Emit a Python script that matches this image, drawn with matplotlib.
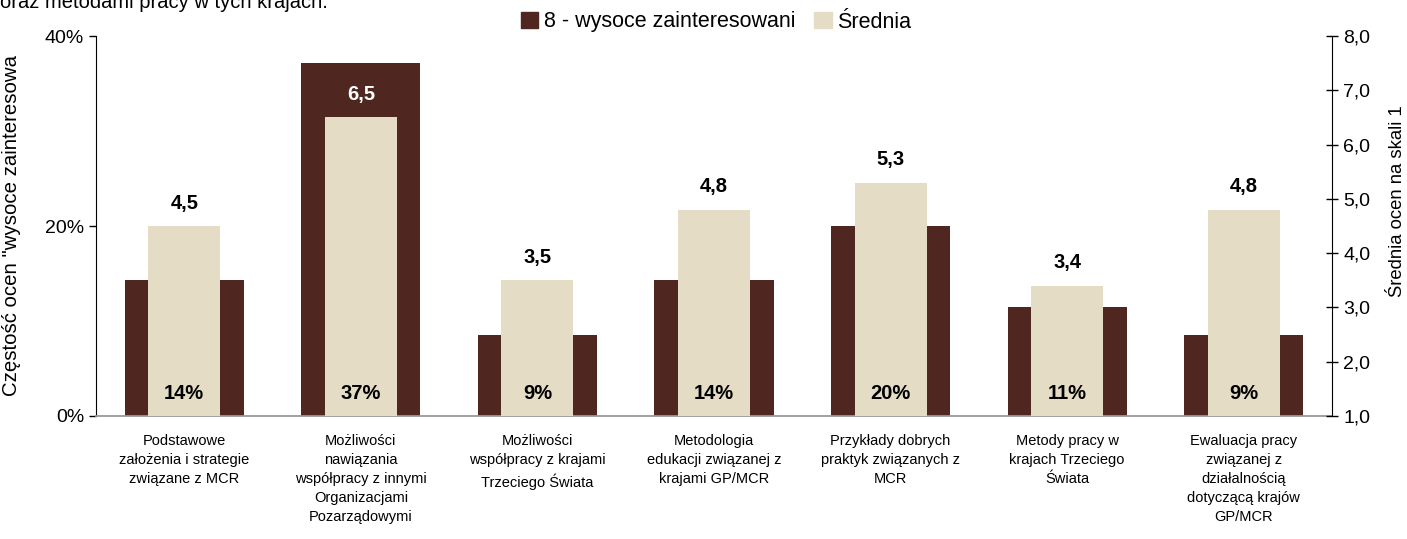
import matplotlib.pyplot as plt
from matplotlib.patches import Patch
import numpy as np

plt.rcParams["font.family"] = ["Liberation Sans", "DejaVu Sans"]

categories = [
    "Podstawowe\nzałożenia i strategie\nzwiązane z MCR",
    "Możliwości\nnawiązania\nwspółpracy z innymi\nOrganizacjami\nPozarządowymi",
    "Możliwości\nwspółpracy z krajami\nTrzeciego Świata",
    "Metodologia\nedukacji związanej z\nkrajami GP/MCR",
    "Przykłady dobrych\npraktyk związanych z\nMCR",
    "Metody pracy w\nkrajach Trzeciego\nŚwiata",
    "Ewaluacja pracy\nzwiązanej z\ndziałalnością\ndotyczącą krajów\nGP/MCR",
]
share_high = [14.29, 37.14, 8.57, 14.29, 20.0, 11.43, 8.57]
share_labels = ["14%", "37%", "9%", "14%", "20%", "11%", "9%"]
averages = [4.5, 6.5, 3.5, 4.8, 5.3, 3.4, 4.8]

dark = "#4F2720"
beige = "#E5DCC5"

fig = plt.figure(figsize=(14.07, 5.39), dpi=100)
ax = fig.add_axes([96 / 1407, 1 - 416 / 539, 1236 / 1407, 380 / 539])
ax2 = ax.twinx()

x = np.arange(len(categories))
ax.bar(x, share_high, width=0.674, color=dark, zorder=2)
ax2.bar(x, averages, width=0.408, color=beige, zorder=2)

ax.set_xlim(-0.5, len(categories) - 0.5)
ax.set_ylim(0, 40)
ax2.set_ylim(1, 8)

ax.set_yticks([0, 20, 40])
ax.set_yticklabels(["0%", "20%", "40%"], fontsize=14)
ax2.set_yticks(np.arange(1, 9))
ax2.set_yticklabels([f"{v:.1f}".replace(".", ",") for v in range(1, 9)], fontsize=14)
ax.tick_params(axis="y", direction="out", length=5, width=1)
ax2.tick_params(axis="y", direction="inout", length=9, width=1)

ax.set_xticks(x)
ax.set_xticklabels(categories, fontsize=10.5, linespacing=1.45)
ax.tick_params(axis="x", length=0, pad=13)

for a in (ax, ax2):
    a.spines["top"].set_visible(False)
ax.spines["right"].set_visible(False)
ax2.spines["left"].set_visible(False)
ax2.spines["bottom"].set_visible(False)
ax.spines["bottom"].set_color("#999999")
ax.spines["bottom"].set_linewidth(1.3)

for i in x:
    ax2.text(i, 1 + 2.4 * 7 / 40, share_labels[i], ha="center", va="center",
             fontsize=14.5, fontweight="bold", color="black", zorder=5)
    col = "white" if averages[i] < share_high[i] * 7 / 40 + 1 - 0.5 else "black"
    ax2.annotate(f"{averages[i]:.1f}".replace(".", ","), (i, averages[i]),
                 xytext=(0, 16.5), textcoords="offset points", ha="center",
                 va="center", fontsize=14.5, fontweight="bold", color=col, zorder=5)

fig.text(12 / 1407, 1 - 225 / 539, 'Częstość ocen "wysoce zainteresowa',
         rotation=90, ha="center", va="center", fontsize=14.7)
fig.text(1398 / 1407, 1 - 201 / 539, "Średnia ocen na skali 1",
         rotation=90, ha="center", va="center", fontsize=13.3)

fig.text(0.0, 1 - 8 / 539, "oraz metodami pracy w tych krajach.",
         ha="left", va="baseline", fontsize=14.5)

handles = [Patch(color=dark), Patch(color=beige)]
fig.legend(handles, ["8 - wysoce zainteresowani", "Średnia"],
           loc="center", bbox_to_anchor=(716 / 1407, 1 - 22 / 539), ncol=2,
           frameon=False, fontsize=15.5, handlelength=0.8, handleheight=0.8,
           handletextpad=0.25, columnspacing=0.9, borderpad=0)

fig.savefig("out.png", dpi=100)
